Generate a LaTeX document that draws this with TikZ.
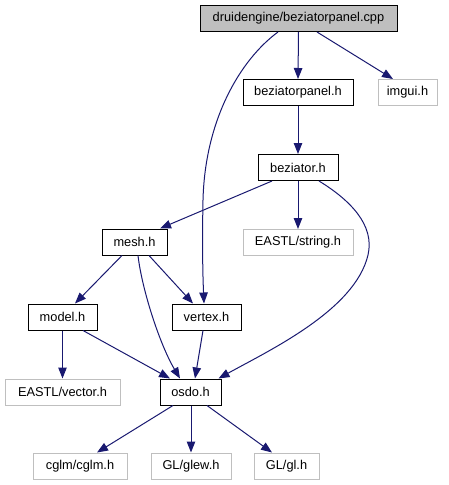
\documentclass[tikz,border=0pt]{standalone}
\usepackage{fontspec}
\setmainfont{Liberation Sans}
\usetikzlibrary{arrows.meta,calc}
\definecolor{edgeblue}{HTML}{191970}
\definecolor{lgray}{HTML}{BFBFBF}
\tikzset{
  box/.style={draw=black, line width=1pt, minimum height=26pt, inner sep=0pt, font=\fontsize{12.8}{14}\selectfont, text=black},
  extbox/.style={box, draw=lgray},
  rootbox/.style={box, fill=lgray},
  edge/.style={draw=edgeblue, line width=1pt, -{Triangle[length=11pt,width=8.5pt]}}
}
\begin{document}
\begin{tikzpicture}[x=1pt,y=-1pt]
\useasboundingbox (0,0) rectangle (448,485);
\node[rootbox, minimum width=197pt] (root) at (298.5,18.5) {druidengine/beziatorpanel.cpp};
\node[box, minimum width=110pt] (bph) at (298,92.5) {beziatorpanel.h};
\node[extbox, minimum width=59pt] (imgui) at (407.5,92.5) {imgui.h};
\node[box, minimum width=80pt] (bez) at (298,167.5) {beziator.h};
\node[box, minimum width=65pt] (mesh) at (134.5,242) {mesh.h};
\node[extbox, minimum width=110pt] (str) at (298,242.5) {EASTL/string.h};
\node[box, minimum width=69pt] (model) at (62.5,317) {model.h};
\node[box, minimum width=69pt] (vertex) at (206.5,317) {vertex.h};
\node[extbox, minimum width=115pt] (vec) at (62.5,392) {EASTL/vector.h};
\node[box, minimum width=61pt] (osdo) at (190.5,392) {osdo.h};
\node[extbox, minimum width=94pt] (cglm) at (80,466) {cglm/cglm.h};
\node[extbox, minimum width=80pt] (glew) at (191,466) {GL/glew.h};
\node[extbox, minimum width=65pt] (gl) at (286.5,466) {GL/gl.h};

\draw[edge] (root.south) -- (bph.north);
\draw[edge] ($(root.south)+(18.5,0)$) -- ($(imgui.north)+(-14.5,0)$);
\draw[edge] ($(root.south)+(-20.5,0)$) .. controls (240,60) and (205,120) .. (203,200) .. controls (202,250) and (203,280) .. ($(vertex.north)+(-2.5,0)$);
\draw[edge] (bph.south) -- (bez.north);
\draw[edge] ($(bez.south)+(-26,0)$) -- ($(mesh.north)+(25.5,0)$);
\draw[edge] (bez.south) -- (str.north);
\draw[edge] ($(bez.south)+(21,0)$) .. controls (350,200) and (375,225) .. (368,255) .. controls (355,310) and (270,350) .. ($(osdo.north east)+(-3,0)$);
\draw[edge] ($(mesh.south)+(-12.5,0)$) -- ($(model.north)+(12.5,0)$);
\draw[edge] ($(mesh.south)+(3.5,0)$) .. controls (142,290) and (160,345) .. ($(osdo.north)+(-10.5,0)$);
\draw[edge] ($(mesh.south)+(14.5,0)$) -- ($(vertex.north)+(-13.5,0)$);
\draw[edge] (model.south) -- (vec.north);
\draw[edge] ($(model.south)+(20.5,0)$) -- ($(osdo.north)+(-20.5,0)$);
\draw[edge] ($(vertex.south)+(-3.5,0)$) -- ($(osdo.north)+(4.5,0)$);
\draw[edge] ($(osdo.south)+(-17.5,0)$) -- ($(cglm.north)+(17,0)$);
\draw[edge] ($(osdo.south)+(0.5,0)$) -- (glew.north);
\draw[edge] ($(osdo.south)+(16.5,0)$) -- ($(gl.north)+(-14.5,0)$);
\end{tikzpicture}
\end{document}
